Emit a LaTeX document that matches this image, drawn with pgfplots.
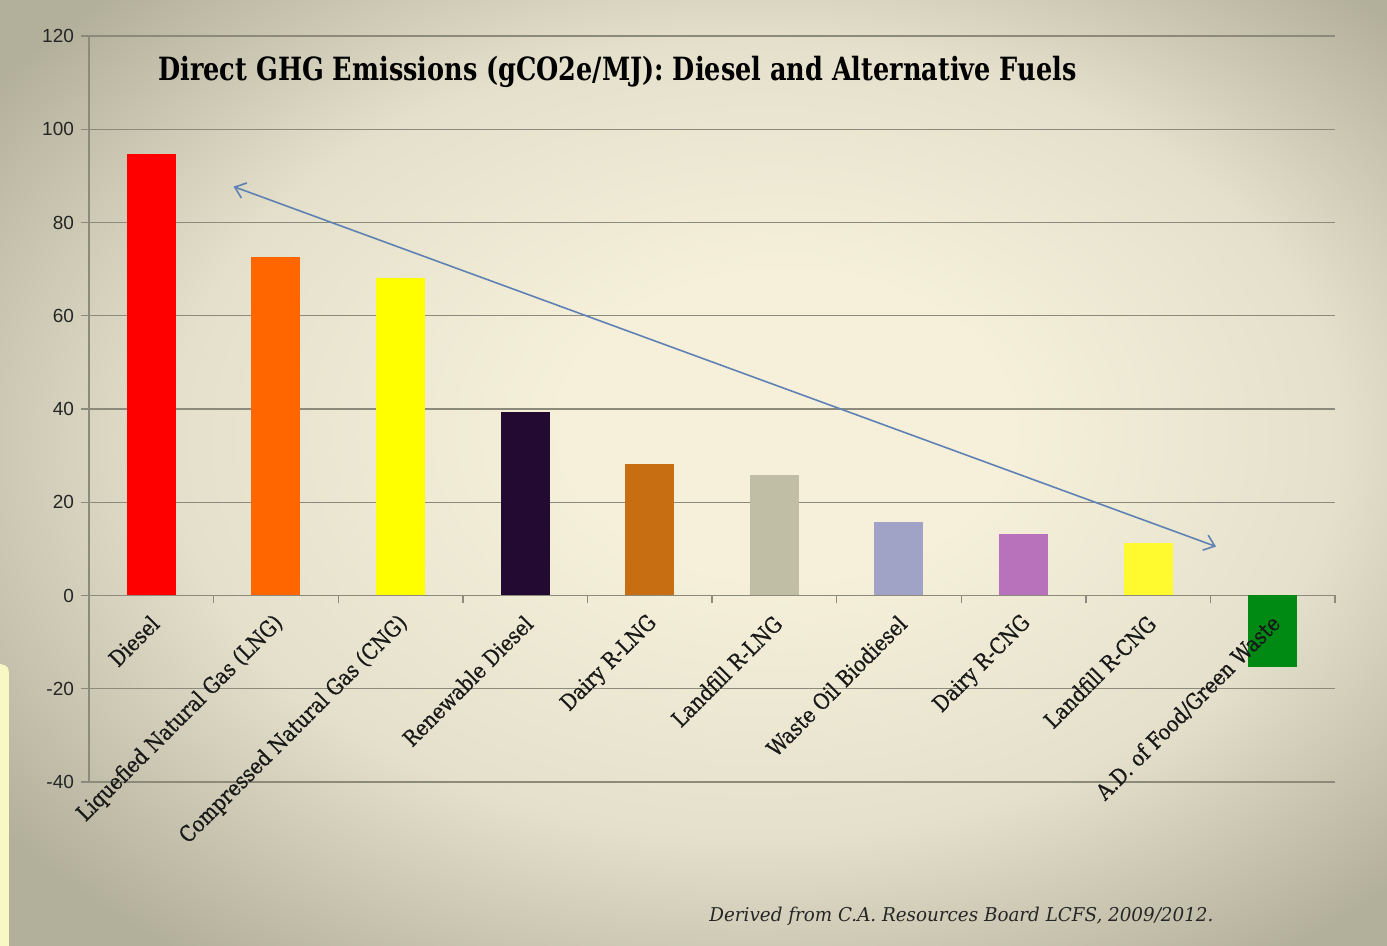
\documentclass[border=0pt]{standalone}
\usepackage{pgfplots}
\pgfplotsset{compat=1.18}
\usepackage{fontspec}
\usepackage{graphicx}
\usetikzlibrary{arrows.meta}
\newfontfamily\slab[FakeStretch=0.87,FakeBold=0.7]{DejaVu Serif}
\newfontfamily\slabplain{DejaVu Serif}
\newfontfamily\arialf{Liberation Sans}
\definecolor{bgin}{HTML}{F6F0DA}
\definecolor{bgmid}{HTML}{E4E0CB}
\definecolor{bgout}{HTML}{B2AF9A}
\definecolor{gridc}{HTML}{8C8A7A}
\definecolor{arrowc}{HTML}{5F82B4}
\definecolor{cDiesel}{HTML}{FF0000}
\definecolor{cLNG}{HTML}{FF6600}
\definecolor{cCNG}{HTML}{FFFF00}
\definecolor{cRD}{HTML}{220A32}
\definecolor{cDRLNG}{HTML}{C86E12}
\definecolor{cLRLNG}{HTML}{C0BFA6}
\definecolor{cWOB}{HTML}{A0A2C6}
\definecolor{cDRCNG}{HTML}{B872BC}
\definecolor{cLRCNG}{HTML}{FFFA30}
\definecolor{cAD}{HTML}{008A14}
\pgfdeclareradialshading{bgshade}{\pgfpoint{4bp}{3bp}}{color(0bp)=(bgin); color(8bp)=(bgin); color(21bp)=(bgmid); color(33bp)=(bgout); color(50bp)=(bgout)}
\pgfplotsset{
  common/.style={
    at={(0,0)}, anchor=south west,
    scale only axis, width=623pt, height=373pt,
    xmin=-0.5, xmax=9.5, ymin=-40, ymax=120,
    axis x line=middle, axis y line=left,
    clip=false,
  }
}
\begin{document}
\begin{tikzpicture}
\useasboundingbox (-44.5pt,-82pt) rectangle (649pt,391pt);
\shade[shading=bgshade] (-44.5pt,-82pt) rectangle (649pt,391pt);
\fill[color={rgb,255:red,248;green,248;blue,196}] (-44.5pt,-82pt) -- (-44.5pt,59pt) .. controls (-40pt,58pt) .. (-40pt,50pt) -- (-40pt,-82pt) -- cycle;
\begin{axis}[
  common,
  axis line style={-, draw=gridc, line width=0.7pt},
  ytick={-40,-20,0,20,40,60,80,100,120},
  ymajorgrids, grid style={draw=gridc, line width=0.7pt},
  ytick align=outside, xtick align=outside,
  major tick length=4pt,
  tick style={draw=gridc, line width=0.7pt},
  yticklabel style={font=\arialf\fontsize{9.5}{11}\selectfont, /pgf/number format/assume math mode=true, text=black!85},
  xtick={0.5,1.5,...,9.5}, xticklabels={},
  bar width=24.5pt,
]
\addplot[ybar, bar shift=0pt, fill=cDiesel, draw=none] coordinates {(0,94.7)};
\addplot[ybar, bar shift=0pt, fill=cLNG, draw=none] coordinates {(1,72.5)};
\addplot[ybar, bar shift=0pt, fill=cCNG, draw=none] coordinates {(2,68.2)};
\addplot[ybar, bar shift=0pt, fill=cRD, draw=none] coordinates {(3,39.4)};
\addplot[ybar, bar shift=0pt, fill=cDRLNG, draw=none] coordinates {(4,28.3)};
\addplot[ybar, bar shift=0pt, fill=cLRLNG, draw=none] coordinates {(5,25.8)};
\addplot[ybar, bar shift=0pt, fill=cWOB, draw=none] coordinates {(6,15.7)};
\addplot[ybar, bar shift=0pt, fill=cDRCNG, draw=none] coordinates {(7,13.1)};
\addplot[ybar, bar shift=0pt, fill=cLRCNG, draw=none] coordinates {(8,11.2)};
\addplot[ybar, bar shift=0pt, fill=cAD, draw=none] coordinates {(9,-15.4)};
\draw[arrowc, line width=0.8pt, {Straight Barb[length=5pt,width=8pt]}-{Straight Barb[length=5pt,width=8pt]}] (axis cs:0.66,87.7) -- (axis cs:8.545,10.5);
\end{axis}
\begin{axis}[
  common,
  axis line style={draw=none},
  tick style={draw=none},
  ytick={-40,0,120}, yticklabels={},
  xtick={0,1,2,3,4,5,6,7,8,9},
  xticklabels={Diesel, Liquefied Natural Gas (LNG), Compressed Natural Gas (CNG), Renewable Diesel, Dairy R-LNG, Landfill R-LNG, Waste Oil Biodiesel, Dairy R-CNG, Landfill R-CNG, A.D. of Food/Green Waste},
  major tick length=0pt,
  xticklabel style={rotate=45, anchor=east, font=\slab\fontsize{11}{13}\selectfont, text=black!90, inner sep=1pt, xshift=-6.1pt, yshift=-9.9pt},
]
\end{axis}
\node[anchor=west, inner sep=0pt] at (34.5pt,355pt) {\resizebox{459pt}{\height}{\slabplain\bfseries\fontsize{16}{19}\selectfont Direct GHG Emissions (gCO2e/MJ): Diesel and Alternative Fuels}};
\node[anchor=base west, inner sep=0pt, text=black!85] at (310pt,-70pt) {\resizebox{252pt}{\height}{\slabplain\itshape\fontsize{9.5}{11}\selectfont Derived from C.A. Resources Board LCFS, 2009/2012.}};
\end{tikzpicture}
\end{document}
